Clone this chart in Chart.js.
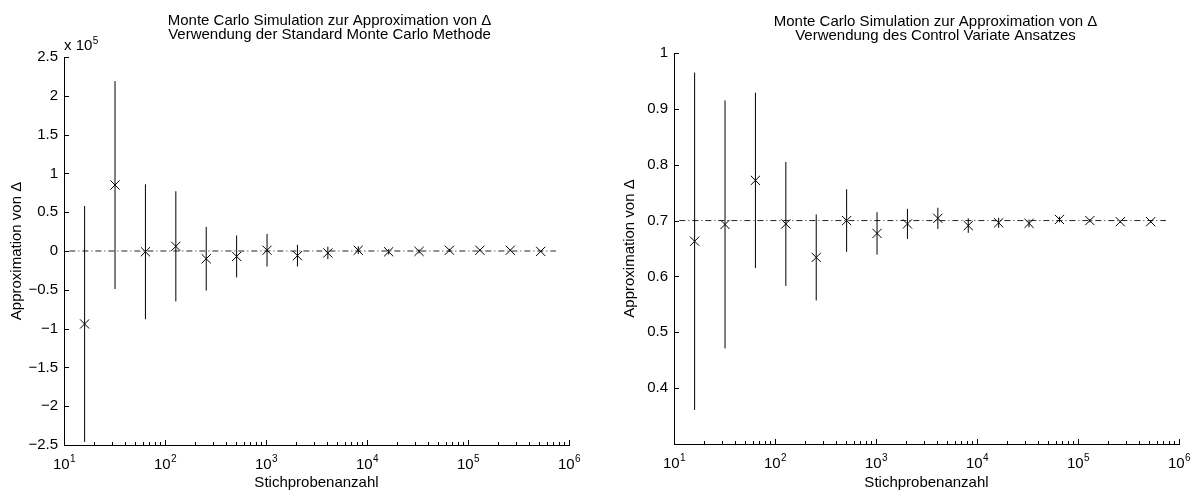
<!DOCTYPE html>
<html>
<head>
<meta charset="utf-8">
<script src="https://cdn.jsdelivr.net/npm/chart.js@4.4.1/dist/chart.umd.min.js"></script>
<style>
html, body { margin: 0; padding: 0; background: #fff; }
#wrap { position: relative; width: 1197px; height: 494px; overflow: hidden; }
canvas { position: absolute; top: 0; }
</style>
</head>
<body>
<div id="wrap">
<canvas id="stdChart" width="600" height="494" style="left:0"></canvas>
<canvas id="cvChart" width="597" height="494" style="left:600px"></canvas>
</div>
<script>
// sample sizes 2^4 .. 2^19
const sampleSizes = [16, 32, 64, 128, 256, 512, 1024, 2048, 4096, 8192, 16384, 32768, 65536, 131072, 262144, 524288];

// standard Monte Carlo estimate and half width of the error bar
const stdMean = [-94000, 85000, -1000, 6000, -10000, -7000, 1000, -6000, -2500, 1000, -1000, -500, 1000, 1000, 1000, -500];
const stdErr = [152000, 134000, 87000, 71000, 41000, 27000, 21000, 14000, 8000, 5000, 3500, 2500, 1800, 1200, 900, 600];

// control variate estimate and half width of the error bar
const cvMean = [0.663, 0.693, 0.772, 0.694, 0.634, 0.700, 0.677, 0.694, 0.704, 0.691, 0.696, 0.695, 0.702, 0.700, 0.698, 0.698];
const cvErr = [0.302, 0.222, 0.157, 0.111, 0.077, 0.056, 0.038, 0.027, 0.019, 0.013, 0.009, 0.007, 0.005, 0.003, 0.002, 0.0015];

// dash-dot reference lines
const refX = [11.3, 741455];
const stdRefY = [0, 0];
const cvRefY = [0.7, 0.7];

const decades = [1, 2, 3, 4, 5, 6];

const FONT = '"Liberation Sans", Arial, Helvetica, sans-serif';

function errorBarPoints(xs, means, errs) {
    const pts = [];
    xs.forEach((x, i) => {
        pts.push({ x: x, y: means[i] - errs[i] });
        pts.push({ x: x, y: means[i] + errs[i] });
        pts.push({ x: x, y: null });
    });
    return pts;
}

function toPoints(xs, ys) {
    return xs.map((x, i) => ({ x: x, y: ys[i] }));
}

// MATLAB style: inward ticks, 10^n labels, two line title
const matlabAxes = {
    id: 'matlabAxes',
    afterDraw(chart, args, opts) {
        const ctx = chart.ctx;
        const xs = chart.scales.x;
        const ys = chart.scales.y;
        const area = chart.chartArea;
        ctx.save();
        ctx.strokeStyle = '#000';
        ctx.lineWidth = 1;
        ctx.beginPath();
        decades.forEach(e => {
            const kMax = e === 6 ? 1 : 9;
            for (let k = 1; k <= kMax; k++) {
                const px = Math.round(xs.getPixelForValue(k * Math.pow(10, e))) + 0.5;
                const len = k === 1 ? 5 : 3;
                ctx.moveTo(px, area.bottom);
                ctx.lineTo(px, area.bottom - len);
            }
        });
        ys.ticks.forEach(t => {
            const py = Math.round(ys.getPixelForValue(t.value)) + 0.5;
            ctx.moveTo(area.left, py);
            ctx.lineTo(area.left + 5, py);
        });
        ctx.stroke();

        ctx.fillStyle = '#000';
        ctx.textBaseline = 'middle';
        ctx.textAlign = 'left';
        decades.forEach(e => {
            const px = xs.getPixelForValue(Math.pow(10, e));
            ctx.font = '15px ' + FONT;
            const wBase = ctx.measureText('10').width;
            ctx.font = '10px ' + FONT;
            const wExp = ctx.measureText(String(e)).width;
            const x0 = px - (wBase + wExp) / 2;
            ctx.font = '15px ' + FONT;
            ctx.fillText('10', x0, area.bottom + 20);
            ctx.font = '10px ' + FONT;
            ctx.fillText(String(e), x0 + wBase + 0.5, area.bottom + 14);
        });

        if (opts.exponent) {
            ctx.font = '15px ' + FONT;
            ctx.fillText('x 10', area.left, 46);
            const w = ctx.measureText('x 10').width;
            ctx.font = '10px ' + FONT;
            ctx.fillText(opts.exponent, area.left + w + 0.5, 41);
        }

        ctx.font = '15px ' + FONT;
        ctx.textAlign = 'center';
        const cx = (area.left + area.right) / 2 + opts.titleShift;
        opts.title.forEach((line, i) => {
            ctx.fillText(line, cx, opts.titleTop + i * 14);
        });
        ctx.restore();
    }
};

function makeChart(id, cfg) {
    const ctx = document.getElementById(id).getContext('2d');
    return new Chart(ctx, {
        type: 'scatter',
        data: {
            datasets: [{
                label: 'Schätzwert',
                data: toPoints(sampleSizes, cfg.mean),
                pointStyle: 'crossRot',
                pointRadius: 6.5,
                borderColor: '#000',
                borderWidth: 1,
                backgroundColor: '#000'
            }, {
                label: 'Fehlerbalken',
                data: errorBarPoints(sampleSizes, cfg.mean, cfg.err),
                showLine: true,
                spanGaps: false,
                pointRadius: 0,
                borderColor: '#000',
                borderWidth: 1
            }, {
                label: 'Referenz',
                data: toPoints(refX, cfg.refY),
                showLine: true,
                pointRadius: 0,
                borderColor: '#222',
                borderWidth: 1,
                borderDash: [6, 3, 1, 3]
            }]
        },
        options: {
            responsive: false,
            animation: false,
            events: [],
            layout: {
                padding: { top: cfg.top, right: cfg.right, bottom: 0, left: 0 }
            },
            plugins: {
                legend: { display: false },
                tooltip: { enabled: false },
                matlabAxes: {
                    title: cfg.title,
                    titleTop: cfg.titleTop,
                    titleShift: cfg.titleShift,
                    exponent: cfg.exponent
                }
            },
            scales: {
                x: {
                    type: 'logarithmic',
                    min: 10,
                    max: 1000000,
                    grid: { display: false, drawTicks: false },
                    border: { display: true, color: '#000', width: 1 },
                    ticks: { display: false },
                    title: {
                        display: true,
                        text: 'Stichprobenanzahl',
                        color: '#000',
                        font: { family: FONT, size: 15 },
                        padding: { top: 0, bottom: 2 }
                    },
                    afterFit: s => { s.height = cfg.xHeight; }
                },
                y: {
                    min: cfg.yMin,
                    max: cfg.yMax,
                    grid: { display: false, drawTicks: false },
                    border: { display: true, color: '#000', width: 1 },
                    ticks: {
                        stepSize: cfg.step,
                        padding: 6,
                        color: '#000',
                        font: { family: FONT, size: 15 },
                        callback: cfg.tickLabel
                    },
                    title: {
                        display: true,
                        text: 'Approximation von Δ',
                        color: '#000',
                        font: { family: FONT, size: 15 },
                        padding: { top: cfg.yTitlePad, bottom: 0 }
                    },
                    afterFit: s => { s.width = cfg.yWidth; }
                }
            }
        },
        plugins: [matlabAxes]
    });
}

makeChart('stdChart', {
    mean: stdMean,
    err: stdErr,
    refY: stdRefY,
    yMin: -250000,
    yMax: 250000,
    step: 50000,
    tickLabel: v => String(Number((v / 1e5).toFixed(1))).replace('-', '\u2212'),
    top: 57,
    right: 31,
    yWidth: 64,
    xHeight: 49,
    yTitlePad: 8,
    title: ['Monte Carlo Simulation zur Approximation von Δ', 'Verwendung der Standard Monte Carlo Methode'],
    titleTop: 21,
    titleShift: 13,
    exponent: '5'
});

makeChart('cvChart', {
    mean: cvMean,
    err: cvErr,
    refY: cvRefY,
    yMin: 0.3,
    yMax: 1,
    step: 0.1,
    tickLabel: v => v < 0.35 ? '' : String(Number(v.toFixed(2))),
    top: 53,
    right: 18,
    yWidth: 74,
    xHeight: 50,
    yTitlePad: 21,
    title: ['Monte Carlo Simulation zur Approximation von Δ', 'Verwendung des Control Variate Ansatzes'],
    titleTop: 22,
    titleShift: 9,
    exponent: null
});
</script>
</body>
</html>
